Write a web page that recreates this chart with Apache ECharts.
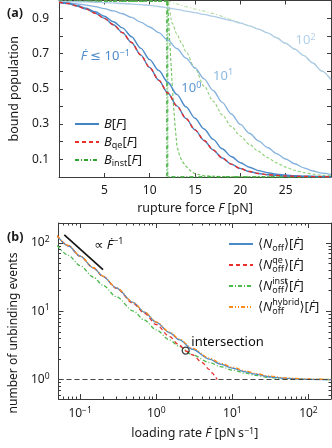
<!DOCTYPE html>
<html><head><meta charset="utf-8">
<script src="https://cdn.jsdelivr.net/npm/echarts@6/dist/echarts.min.js"></script>
<style>html,body{margin:0;padding:0;background:#fff}#c{width:332px;height:448px}</style>
</head><body><div id="c"></div>
<script>
// ---------- panel (a): bound population vs rupture force ----------
const forceA = [0,1,2,3,4,5,6,7,8,9,10,11,12,13,14,15,16,17,18,19,20,21,22,23,24,25,26,27,28,29,30];
const B_rateM1 = [0.99,0.983,0.969,0.951,0.928,0.899,0.863,0.818,0.762,0.692,0.62,0.548,0.476,0.403,0.332,0.267,0.207,0.153,0.108,0.073,0.048,0.031,0.02,0.013,0.009,0.006,0.004,0.003,0.002,0.002,0.001];
const B_qe     = [0.99,0.983,0.969,0.951,0.928,0.899,0.863,0.818,0.762,0.692,0.62,0.548,0.476,0.403,0.332,0.267,0.207,0.153,0.108,0.073,0.048,0.031,0.02,0.013,0.009,0.006,0.004,0.003,0.002,0.002,0.001];
const B_rate0  = [0.99,0.984,0.972,0.956,0.936,0.911,0.88,0.845,0.795,0.73,0.665,0.603,0.537,0.468,0.398,0.333,0.272,0.213,0.16,0.116,0.081,0.055,0.036,0.024,0.016,0.011,0.008,0.005,0.004,0.003,0.002];
const B_rate1  = [0.99,0.986,0.981,0.974,0.965,0.954,0.941,0.925,0.904,0.878,0.85,0.818,0.776,0.728,0.674,0.618,0.556,0.49,0.423,0.357,0.298,0.248,0.205,0.167,0.133,0.102,0.075,0.052,0.034,0.022,0.015];
const B_rate2  = [0.995,0.994,0.993,0.992,0.99,0.988,0.986,0.983,0.98,0.977,0.972,0.966,0.958,0.95,0.94,0.931,0.921,0.91,0.898,0.886,0.872,0.856,0.838,0.817,0.788,0.757,0.724,0.688,0.646,0.6,0.551];
// instantaneous approximation curves
const instF_M1 = [0, 11.9, 11.9, 30];
const instB_M1 = [0.995, 0.995, 0, 0];
const instF_M1b = [0, 12.0, 12.0, 30];
const instB_M1b = [0.995, 0.995, 0, 0];
const instF_0 = [0, 11.95, 12.05, 12.2, 12.4, 12.6, 12.8, 13.0, 13.3, 13.6, 14, 14.5, 15, 16, 18, 30];
const instB_0 = [0.995, 0.995, 0.93, 0.78, 0.6, 0.43, 0.29, 0.18, 0.12, 0.088, 0.062, 0.035, 0.018, 0.007, 0.002, 0];
const instF_1 = [0, 12.0, 12.5, 13, 13.5, 14, 15, 16, 17, 18, 19, 20, 21, 22, 23, 24, 25, 26, 27, 28, 29, 30];
const instB_1 = [0.995, 0.995, 0.87, 0.81, 0.76, 0.71, 0.615, 0.515, 0.43, 0.352, 0.287, 0.232, 0.185, 0.145, 0.11, 0.08, 0.056, 0.038, 0.025, 0.016, 0.01, 0.007];
const instF_2 = [0, 12.1, 13, 14, 15, 16, 17, 18, 19, 20, 21, 22, 23, 24, 25, 26, 27, 28, 29, 30];
const instB_2 = [0.995, 0.995, 0.98, 0.965, 0.952, 0.94, 0.926, 0.91, 0.892, 0.875, 0.857, 0.838, 0.817, 0.79, 0.758, 0.725, 0.688, 0.646, 0.6, 0.551];
const ticksFa = [5, 10, 15, 20, 25];
const ticksBa = [0.1, 0.2, 0.3, 0.4, 0.5, 0.6, 0.7, 0.8, 0.9];
const labelsBa = [0.1, 0.3, 0.5, 0.7, 0.9];

// ---------- panel (b): number of unbinding events vs loading rate ----------
const rateB    = [0.05, 0.07, 0.1, 0.15, 0.2, 0.3, 0.5, 0.7, 1, 1.5, 2, 3, 5, 7, 10, 15, 20, 30, 50, 100, 200];
const N_off    = [127, 91, 64, 43, 32.5, 21.9, 13.4, 9.7, 6.9, 4.85, 3.85, 2.78, 2.0, 1.68, 1.47, 1.3, 1.2, 1.1, 1.04, 1.01, 1.0];
const N_hybrid = [128, 92, 64.5, 43.4, 32.8, 22.1, 13.5, 9.8, 7.0, 4.95, 3.95, 2.86, 2.06, 1.74, 1.52, 1.34, 1.23, 1.13, 1.06, 1.02, 1.005];
const N_inst   = [92, 66, 46.5, 31.5, 24, 16.3, 10.1, 7.4, 5.35, 3.8, 3.06, 2.3, 1.78, 1.55, 1.38, 1.24, 1.15, 1.08, 1.03, 1.01, 1.0];
const rateQe   = [0.05, 0.07, 0.1, 0.15, 0.2, 0.3, 0.5, 0.7, 1, 1.5, 2, 2.5, 3, 4, 5, 5.5, 6, 6.3];
const N_qe     = [127, 91, 64, 43, 32.3, 21.6, 13.0, 9.3, 6.4, 4.25, 3.2, 2.6, 2.3, 1.78, 1.4, 1.24, 1.09, 1.0];
const slopeRate = [0.062, 0.2];
const slopeN    = [131, 40.6];
const crossRate = [2.44];
const crossN    = [2.66];
const refN = 1;
const majorR = [0.1, 1, 10, 100];
const minorR = [0.06,0.07,0.08,0.09,0.2,0.3,0.4,0.5,0.6,0.7,0.8,0.9,2,3,4,5,6,7,8,9,20,30,40,50,60,70,80,90];
const majorN = [1, 10, 100];
const minorN = [0.6,0.7,0.8,0.9,2,3,4,5,6,7,8,9,20,30,40,50,60,70,80,90];

// ---------- annotations (data coordinates) ----------
const annoA = [
  {t:'{it|Ḟ} ≤ 10{sup|−1}', x:2.4, y:0.682, c:'#4f8cc9', align:'left'},
  {t:'10{sup|0}', x:14.6, y:0.50, c:'#5d97d0', align:'center'},
  {t:'10{sup|1}', x:18.1, y:0.57, c:'#8cb8e0', align:'center'},
  {t:'10{sup|2}', x:27.2, y:0.773, c:'#b3cfea', align:'center'}
];
const annoB = [
  {t:'∝ {it|Ḟ}{sup|−1}', x:0.153, y:93.6, c:'#111', align:'left'},
  {t:'intersection', x:2.89, y:3.56, c:'#111', align:'left'}
];

const FONT = "'Noto Sans','DejaVu Sans',sans-serif";
const AX = '#3a3a3a';
const TXT = '#1a1a1a';
const zip = (xs, ys) => xs.map((x, i) => [x, ys[i]]);
const expLabel = v => { const e = Math.round(Math.log10(v)); return '10{sup|' + (e < 0 ? '\u2212' + (-e) : e) + '}'; };
const richSup = (fs, col) => ({
  sup: {fontSize: fs, verticalAlign: 'top', fontFamily: FONT, color: col},
  it: {fontStyle: 'italic', fontFamily: FONT, color: col, fontSize: fs + 3.5},
  sub: {fontSize: fs, verticalAlign: 'bottom', fontFamily: FONT, color: col}
});

function frameAxis(o) {
  return Object.assign({
    splitLine: {show: false},
    axisLine: {show: true, onZero: false, lineStyle: {color: AX, width: 1}},
    axisTick: {show: true, inside: true, length: 4, lineStyle: {color: AX, width: 1}},
    axisLabel: {show: false}
  }, o);
}
const lblStyle = (extra) => Object.assign({fontSize: 12, color: TXT, fontFamily: FONT}, extra);
const nameStyle = {fontSize: 12.5, color: TXT, fontFamily: FONT, rich: richSup(9, TXT)};

const RMIN = 0.052, RMAX = 198, NMIN = 0.52, NMAX = 196;

const xAxis = [
  frameAxis({gridIndex: 0, type: 'value', min: 0, max: 30, position: 'bottom',
    axisTick: {show: true, inside: true, length: 4, customValues: ticksFa, lineStyle: {color: AX}},
    axisLabel: lblStyle({show: true, customValues: ticksFa, margin: 8}),
    name: 'rupture force {it|F} [pN]', nameLocation: 'middle', nameGap: 25, nameTextStyle: nameStyle}),
  frameAxis({gridIndex: 0, type: 'value', min: 0, max: 30, position: 'top',
    axisTick: {show: true, inside: true, length: 4, customValues: ticksFa, lineStyle: {color: AX}}}),
  frameAxis({gridIndex: 1, type: 'log', min: RMIN, max: RMAX, position: 'bottom',
    axisTick: {show: true, inside: true, length: 5, customValues: majorR, lineStyle: {color: AX}},
    axisLabel: lblStyle({show: true, customValues: majorR, margin: 7, lineHeight: 16, formatter: expLabel, rich: richSup(8.5, TXT)}),
    name: 'loading rate {it|Ḟ} [pN\u2009s{sup|−1}]', nameLocation: 'middle', nameGap: 28, nameTextStyle: nameStyle}),
  frameAxis({gridIndex: 1, type: 'log', min: RMIN, max: RMAX, position: 'bottom', axisLine: {show: false},
    axisTick: {show: true, inside: true, length: 2.5, customValues: minorR, lineStyle: {color: AX}}}),
  frameAxis({gridIndex: 1, type: 'log', min: RMIN, max: RMAX, position: 'top',
    axisTick: {show: true, inside: true, length: 5, customValues: majorR, lineStyle: {color: AX}}}),
  frameAxis({gridIndex: 1, type: 'log', min: RMIN, max: RMAX, position: 'top', axisLine: {show: false},
    axisTick: {show: true, inside: true, length: 2.5, customValues: minorR, lineStyle: {color: AX}}})
];
const yAxis = [
  frameAxis({gridIndex: 0, type: 'value', min: 0, max: 1, position: 'left',
    axisTick: {show: true, inside: true, length: 4, customValues: ticksBa, lineStyle: {color: AX}},
    axisLabel: lblStyle({show: true, customValues: labelsBa, margin: 10, formatter: v => v.toFixed(1)}),
    name: 'bound population', nameLocation: 'middle', nameGap: 38, nameTextStyle: nameStyle}),
  frameAxis({gridIndex: 0, type: 'value', min: 0, max: 1, position: 'right',
    axisTick: {show: true, inside: true, length: 4, customValues: ticksBa, lineStyle: {color: AX}}}),
  frameAxis({gridIndex: 1, type: 'log', min: NMIN, max: NMAX, position: 'left',
    axisTick: {show: true, inside: true, length: 5, customValues: majorN, lineStyle: {color: AX}},
    axisLabel: lblStyle({show: true, customValues: majorN, margin: 9, lineHeight: 16, formatter: expLabel, rich: richSup(8.5, TXT)}),
    name: 'number of unbinding events', nameLocation: 'middle', nameGap: 38,
    nameTextStyle: Object.assign({}, nameStyle, {fontSize: 12, padding: [0, 44, 0, 0]})}),
  frameAxis({gridIndex: 1, type: 'log', min: NMIN, max: NMAX, position: 'left', axisLine: {show: false},
    axisTick: {show: true, inside: true, length: 2.5, customValues: minorN, lineStyle: {color: AX}}}),
  frameAxis({gridIndex: 1, type: 'log', min: NMIN, max: NMAX, position: 'right',
    axisTick: {show: true, inside: true, length: 5, customValues: majorN, lineStyle: {color: AX}}}),
  frameAxis({gridIndex: 1, type: 'log', min: NMIN, max: NMAX, position: 'right', axisLine: {show: false},
    axisTick: {show: true, inside: true, length: 2.5, customValues: minorN, lineStyle: {color: AX}}})
];

function line(name, data, color, width, type, gi, extra) {
  return Object.assign({
    type: 'line', name: name, data: data,
    xAxisIndex: gi === 0 ? 0 : 2, yAxisIndex: gi === 0 ? 0 : 2,
    showSymbol: false, symbol: 'none', smooth: 0.3, smoothMonotone: 'x',
    color: color, itemStyle: {color: color},
    lineStyle: {color: color, width: width, type: type},
    emphasis: {disabled: true}, silent: true, animation: false
  }, extra || {});
}
const DD = [4, 2, 1, 2];
const series = [
  // panel (a)
  line('inst2', zip(instF_2, instB_2), '#b9dfa6', 1.1, DD, 0),
  line('inst1', zip(instF_1, instB_1), '#8fd07a', 1.1, [3, 2], 0),
  line('inst0', zip(instF_0, instB_0), '#6cc35a', 1.1, [3, 2], 0, {smooth: false}),
  line('Binst', zip(instF_M1, instB_M1), '#2ea42e', 1.3, DD, 0, {smooth: false}),
  line('instb', zip(instF_M1b, instB_M1b), '#4cb44c', 1.1, DD, 0, {smooth: false}),
  line('B2', zip(forceA, B_rate2), '#aecbe8', 1.3, 'solid', 0),
  line('B1', zip(forceA, B_rate1), '#86b3de', 1.3, 'solid', 0),
  line('B0', zip(forceA, B_rate0), '#4a8ac9', 1.4, 'solid', 0),
  line('B', zip(forceA, B_rateM1), '#4283c4', 1.4, 'solid', 0),
  line('Bqe', zip(forceA, B_qe), '#e8302c', 1.4, [4, 3], 0),
  // panel (b)
  line('slope', zip(slopeRate, slopeN), '#111111', 1.6, 'solid', 1, {smooth: false}),
  line('Ninst', zip(rateB, N_inst), '#4cb84c', 1.3, DD, 1),
  line('Nqe', zip(rateQe, N_qe), '#e8302c', 1.3, [4, 3], 1),
  line('Noff', zip(rateB, N_off), '#4a8ac8', 1.3, 'solid', 1, {
    markLine: {silent: true, symbol: 'none', animation: false, label: {show: false},
      lineStyle: {color: '#444', width: 1, type: [5, 3]}, data: [{yAxis: refN}]}
  }),
  line('Nhyb', zip(rateB, N_hybrid), '#ff8a1c', 1.3, [4, 2, 1, 2, 1, 2], 1),
  {type: 'scatter', name: 'cross', data: zip(crossRate, crossN), xAxisIndex: 2, yAxisIndex: 2,
   symbol: 'circle', symbolSize: 7, itemStyle: {color: 'rgba(0,0,0,0)', borderColor: '#111', borderWidth: 1.3},
   silent: true, animation: false, z: 5}
];

const legRich = {
  it: {fontStyle: 'italic', fontSize: 13, fontFamily: FONT, color: TXT},
  sub: {fontSize: 9, verticalAlign: 'bottom', fontFamily: FONT, color: TXT},
  sup: {fontSize: 9, verticalAlign: 'top', fontFamily: FONT, color: TXT},
  subz: {fontSize: 9, verticalAlign: 'bottom', fontFamily: FONT, color: TXT, width: 0},
  supz: {fontSize: 9, verticalAlign: 'top', fontFamily: FONT, color: TXT, width: 0}
};
const legNames = {
  B: '{it|B}[{it|F}]',
  Bqe: '{it|B}{sub|qe}[{it|F}]',
  Binst: '{it|B}{sub|inst}[{it|F}]',
  Noff: '⟨{it|N}{sub|off}⟩[{it|Ḟ}]',
  Nqe: '⟨{it|N}{supz|qe}{sub|off}⟩[{it|Ḟ}]',
  Ninst: '⟨{it|N}{supz|inst}{sub|off}⟩[{it|Ḟ}]',
  Nhyb: '⟨{it|N}{subz|off}{sup|hybrid}⟩[{it|Ḟ}]'
};
const legendBase = {
  orient: 'vertical', itemWidth: 24, itemHeight: 8, itemGap: 2, selectedMode: false,
  itemStyle: {opacity: 0, borderWidth: 0},
  formatter: n => legNames[n],
  textStyle: {fontSize: 13, color: TXT, fontFamily: FONT, lineHeight: 16, rich: legRich}
};

const chart = echarts.init(document.getElementById('c'), null, {renderer: 'canvas'});
chart.setOption({
  animation: false,
  backgroundColor: '#fff',
  grid: [
    {left: 56, top: 0.5, width: 275, height: 176.5},
    {left: 56, top: 223, width: 275, height: 176}
  ],
  xAxis: xAxis,
  yAxis: yAxis,
  legend: [
    Object.assign({}, legendBase, {left: 69, top: 111, data: ['B', 'Bqe', 'Binst']}),
    Object.assign({}, legendBase, {left: 223, top: 230, itemGap: 3, textStyle: Object.assign({}, legendBase.textStyle, {lineHeight: 18}), data: ['Noff', 'Nqe', 'Ninst', 'Nhyb']})
  ],
  series: series
});

function annoGraphic(list, seriesIndex) {
  return list.map(a => {
    const p = chart.convertToPixel({seriesIndex: seriesIndex}, [a.x, a.y]);
    return {type: 'text', x: p[0], y: p[1], silent: true, z: 10,
      style: {text: a.t, fill: a.c, fontSize: 13, fontFamily: FONT, align: a.align, verticalAlign: 'middle',
        rich: {
          it: {fontStyle: 'italic', fontSize: 13, fontFamily: FONT, fill: a.c, color: a.c},
          sup: {fontSize: 9, verticalAlign: 'top', fontFamily: FONT, fill: a.c, color: a.c, lineHeight: 16}
        }}};
  });
}
const g = [].concat(annoGraphic(annoA, 8), annoGraphic(annoB, 13));
g.push({type: 'text', left: 7, top: 7, style: {text: '(a)', fontSize: 12.5, fontWeight: 'bold', fontFamily: FONT, fill: TXT}});
g.push({type: 'text', left: 7, top: 231, style: {text: '(b)', fontSize: 12.5, fontWeight: 'bold', fontFamily: FONT, fill: TXT}});
chart.setOption({graphic: g});
</script></body></html>
